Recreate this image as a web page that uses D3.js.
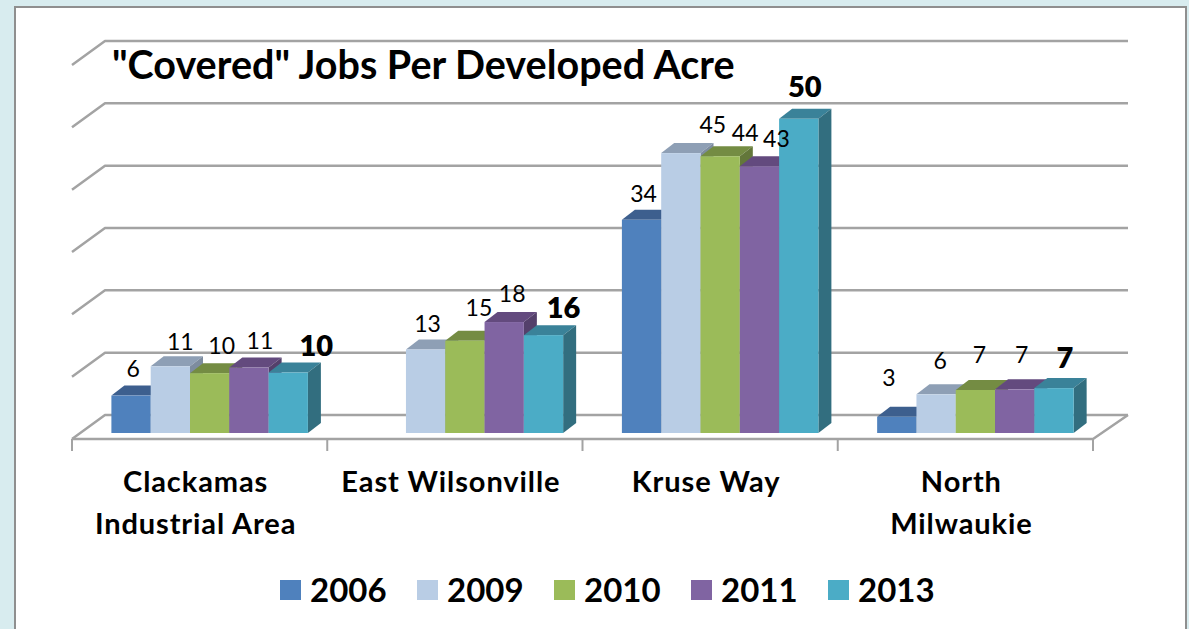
<!DOCTYPE html>
<html><head><meta charset="utf-8">
<script src="https://cdn.jsdelivr.net/npm/d3@7/dist/d3.min.js"></script>
<style>html,body{margin:0;padding:0;background:#d8ecef}svg{display:block}text{font-family:Lato,"Open Sans",sans-serif;fill:#000}</style>
</head><body><svg id="c" width="1189" height="629"></svg>
<script>
const categories = [["Clackamas","Industrial Area"],["East Wilsonville"],["Kruse Way"],["North","Milwaukie"]];
const years = ["2006","2009","2010","2011","2013"];
const v2006 = [6, null, 34.2, 2.6];
const v2009 = [10.7, 13.4, 44.9, 6.2];
const v2010 = [9.6, 14.8, 44.4, 6.9];
const v2011 = [10.5, 17.8, 42.8, 7.0];
const v2013 = [9.7, 15.7, 50.4, 7.2];
const series = [v2006, v2009, v2010, v2011, v2013];
const yTicks = [0,10,20,30,40,50,60];

// styling
const colors = ["#4f81bd","#b9cde5","#9bbb59","#8064a2","#4bacc6"];
const topCol = ["#3d5f8e","#8e9fb5","#748c43","#634a7e","#3a8299"];
const sideCol = ["#345377","#7d8c9f","#63773a","#54406b","#326e7f"];
// hand-placed label nudges of the original, [dx, dy] from bar centre/top to text centre
const nudges = [
 [[2,-27],[10,-24],[12,-27],[11,-27],[28,-27]],
 [null,[2,-26],[14,-33],[8,-28],[20,-27]],
 [[2,-26],[32,-28],[25,-23],[17,-27],[6,-32]],
 [[-8,-39],[4,-33],[4,-35],[7,-34],[11,-30]]
];
const boldSeries = 4;
const depthX = 35, depthY = 24, barDX = 13, barDY = 10;

const svg = d3.select("#c");
// frame
svg.append("rect").attr("x",15).attr("y",7).attr("width",1171).attr("height",640)
  .attr("fill","#fff").attr("stroke","#8f8f8f").attr("stroke-width",2);

const x0 = d3.scaleBand().domain(d3.range(categories.length)).range([72,1093]);
const y = d3.scaleLinear().domain([0,60]).range([415,41]);
const barBase = 18; // front-plane shift of bar base from back wall baseline
const x1 = d3.scaleBand().domain(d3.range(years.length)).range([39.4,39.4+196.5]);

const grid = "#a3a3a3";
const g = svg.append("g").attr("fill","none").attr("stroke",grid).attr("stroke-width",2.5).attr("stroke-linejoin","round");
yTicks.forEach(t=>{
  g.append("path").attr("d",d3.line()([[72,y(t)+depthY],[72+depthX-2,y(t)],[1128,y(t)]]));
});
// floor
g.append("path").attr("d",d3.line()([[72,y(0)+depthY],[1093,y(0)+depthY],[1128,y(0)]]));
// category ticks
d3.range(categories.length+1).forEach(i=>{
  const xp = i<categories.length ? x0(i) : x0.range()[1];
  g.append("line").attr("x1",xp).attr("x2",xp).attr("y1",y(0)+depthY).attr("y2",451).attr("stroke-width",2);
});

// bars
const bars = svg.append("g");
const labels = svg.append("g");
categories.forEach((c,ci)=>{
  series.forEach((s,si)=>{
    const v = s[ci];
    if (v==null) return;
    const xl = x0(ci)+x1(si), w = x1.bandwidth(), xr = xl+w;
    const yt = y(v)+barBase, yb = y(0)+barBase;
    bars.append("polygon").attr("fill",topCol[si]).attr("points",[[xl,yt],[xl+barDX,yt-barDY],[xr+barDX,yt-barDY],[xr,yt]].join(" "));
    bars.append("polygon").attr("fill",sideCol[si]).attr("points",[[xr,yt],[xr+barDX,yt-barDY],[xr+barDX,yb-barDY],[xr,yb]].join(" "));
    bars.append("rect").attr("x",xl).attr("y",yt).attr("width",w).attr("height",yb-yt).attr("fill",colors[si]);
    const n = nudges[ci][si], bold = si===boldSeries;
    labels.append("text").attr("x",xl+w/2+n[0]).attr("y",yt+n[1]).attr("dy","0.35em")
      .attr("text-anchor","middle").attr("font-size",bold?29:23).attr("font-weight",bold?800:400)
      .text(d3.format(".0f")(v));
  });
  // category labels
  const cx = x0(ci)+x0.bandwidth()/2-4;
  c.forEach((line,li)=>{
    svg.append("text").attr("x",cx).attr("y",482+li*42).attr("dy","0.35em").attr("text-anchor","middle")
      .attr("font-size",29).attr("font-weight",700).attr("letter-spacing",0.9).text(line);
  });
});

// title
svg.append("text").attr("x",112).attr("y",79).attr("font-size",39.5).attr("font-weight",700).text('"Covered" Jobs Per Developed Acre');

// legend
const lx = d3.scalePoint().domain(years).range([280,828]);
years.forEach((yr,i)=>{
  svg.append("rect").attr("x",lx(yr)).attr("y",580).attr("width",21).attr("height",20).attr("fill",colors[i]);
  svg.append("text").attr("x",lx(yr)+30).attr("y",590).attr("dy","0.36em").attr("font-size",33).attr("font-weight",700).text(yr);
});
</script></body></html>
